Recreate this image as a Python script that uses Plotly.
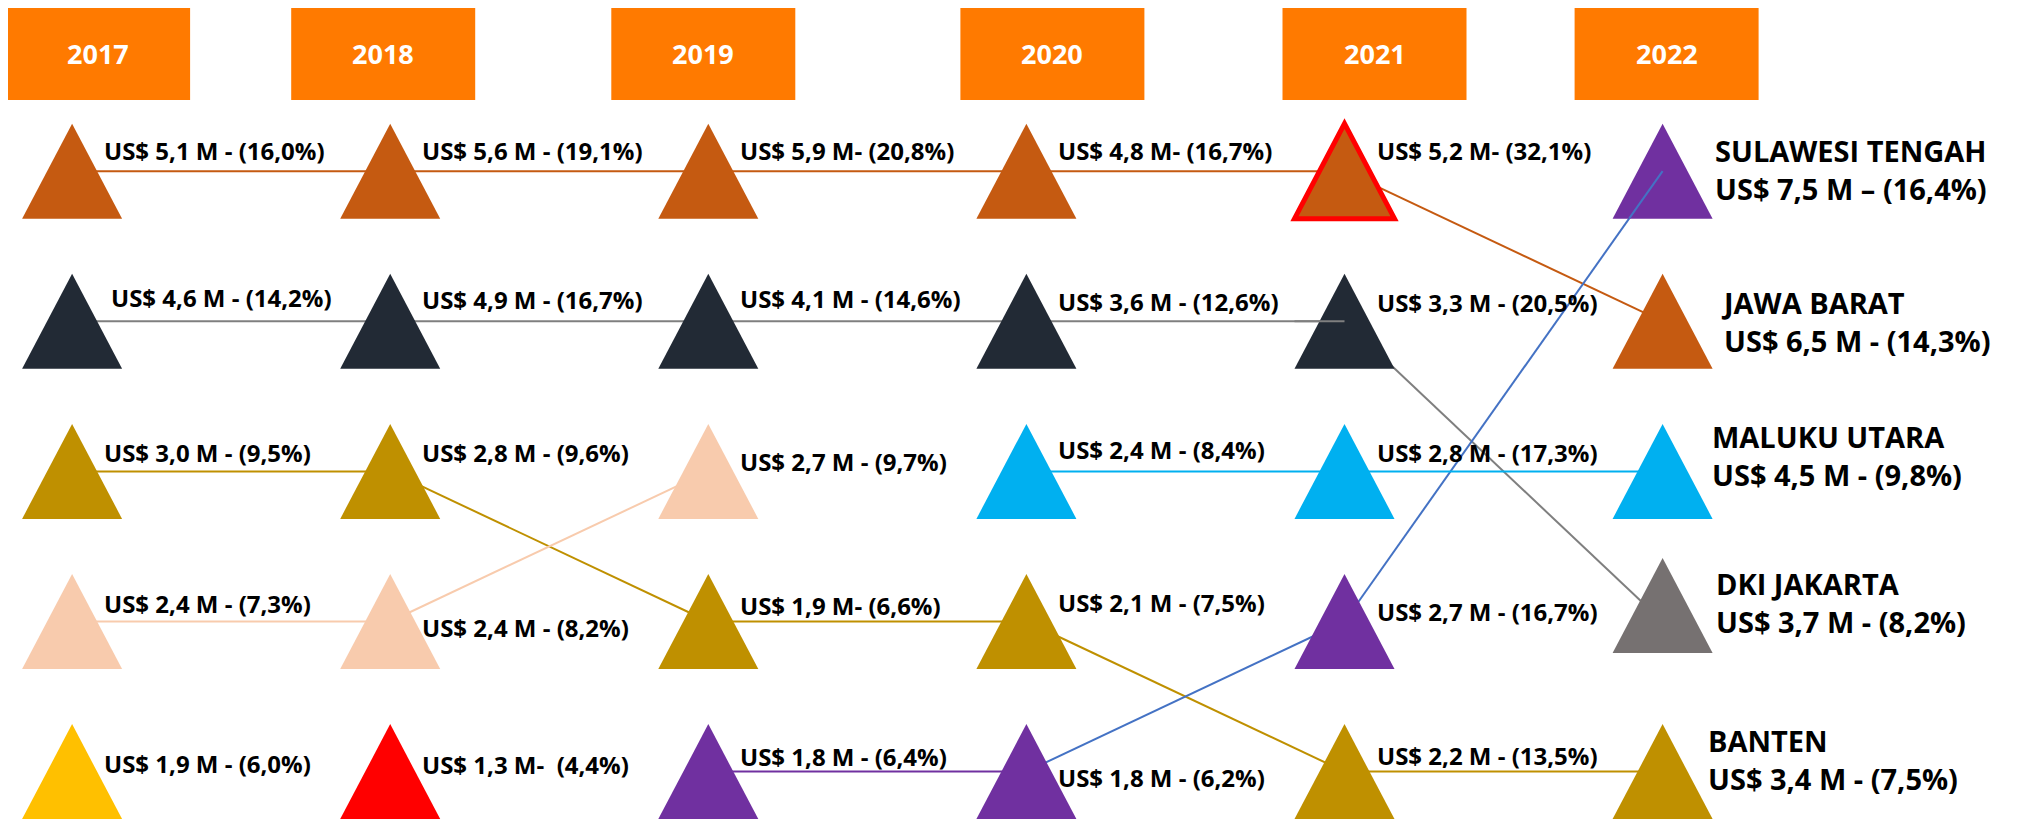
import plotly.graph_objects as go

years = ["2017", "2018", "2019", "2020", "2021", "2022"]

# rank per year (None = not in top 5), value in US$ million, share in %
jabar_rank = [1, 1, 1, 1, 1, 2]
jabar_value = [5.1, 5.6, 5.9, 4.8, 5.2, 6.5]
jabar_share = [16.0, 19.1, 20.8, 16.7, 32.1, 14.3]

dki_rank = [2, 2, 2, 2, 2, 4]
dki_value = [4.6, 4.9, 4.1, 3.6, 3.3, 3.7]
dki_share = [14.2, 16.7, 14.6, 12.6, 20.5, 8.2]

banten_rank = [3, 3, 4, 4, 5, 5]
banten_value = [3.0, 2.8, 1.9, 2.1, 2.2, 3.4]
banten_share = [9.5, 9.6, 6.6, 7.5, 13.5, 7.5]

peach_rank = [4, 4, 3, None, None, None]
peach_value = [2.4, 2.4, 2.7, None, None, None]
peach_share = [7.3, 8.2, 9.7, None, None, None]

yellow_rank = [5, None, None, None, None, None]
yellow_value = [1.9, None, None, None, None, None]
yellow_share = [6.0, None, None, None, None, None]

red_rank = [None, 5, None, None, None, None]
red_value = [None, 1.3, None, None, None, None]
red_share = [None, 4.4, None, None, None, None]

sulteng_rank = [None, None, 5, 5, 4, 1]
sulteng_value = [None, None, 1.8, 1.8, 2.7, 7.5]
sulteng_share = [None, None, 6.4, 6.2, 16.7, 16.4]

malut_rank = [None, None, None, 3, 3, 3]
malut_value = [None, None, None, 2.4, 2.8, 4.5]
malut_share = [None, None, None, 8.4, 17.3, 9.8]

# name shown in 2022 column, ranks, values, shares
series = [
    ("JAWA BARAT", jabar_rank, jabar_value, jabar_share),
    ("DKI JAKARTA", dki_rank, dki_value, dki_share),
    ("BANTEN", banten_rank, banten_value, banten_share),
    ("", peach_rank, peach_value, peach_share),
    ("", yellow_rank, yellow_value, yellow_share),
    ("", red_rank, red_value, red_share),
    ("SULAWESI TENGAH", sulteng_rank, sulteng_value, sulteng_share),
    ("MALUKU UTARA", malut_rank, malut_value, malut_share),
]

# --- styles ---
tri_colors = [
    ["#C55A11"] * 6,
    ["#222A35"] * 5 + ["#767171"],
    ["#BF9000"] * 6,
    ["#F8CBAD"] * 6,
    ["#FFC000"] * 6,
    ["#FF0000"] * 6,
    ["#7030A0"] * 6,
    ["#00B0F0"] * 6,
]
seg_colors = [
    ["#C55A11"] * 5,
    ["#7F7F7F"] * 5,
    ["#BF9000"] * 5,
    ["#F8CBAD"] * 5,
    ["#FFC000"] * 5,
    ["#FF0000"] * 5,
    ["#7030A0", "#7030A0", "#7030A0", "#4472C4", "#4472C4"],
    ["#00B0F0"] * 5,
]
seps = [
    [" - ", " - ", "- ", "- ", "- ", " - "],
    [" - "] * 6,
    [" - ", " - ", "- ", " - ", " - ", " - "],
    [" - "] * 6,
    [" - "] * 6,
    [" - ", "-  ", " - ", " - ", " - ", " - "],
    [" - ", " - ", " - ", " - ", " - ", " \u2013 "],
    [" - "] * 6,
]
# vertical nudge of value labels (px, up positive)
label_dy = [
    [21, 21, 21, 21, 21, 0],
    [24, 22, 23, 20, 19, 0],
    [19, 19, 16, 19, 16, 0],
    [18, -6, 10, 0, 0, 0],
    [8, 0, 0, 0, 0, 0],
    [0, 7, 0, 0, 0, 0],
    [0, 0, 15, -6, 10, 0],
    [0, 0, 0, 22, 19, 0],
]
label_dx = {(1, 0): 7}
# 2022 column labels: (x nudge, y nudge)
right_pos = {"SULAWESI TENGAH": (50, 2), "JAWA BARAT": (56, 0),
             "MALUKU UTARA": (47, 16), "DKI JAKARTA": (51, 19),
             "BANTEN": (43, 12)}
tri_dy = {(1, 5): 16}   # DKI 2022 triangle sits a bit higher
box_dx = [26, -7, -5, 26, 30, 4]

W, H = 2018, 813
COL0, COLW = 64.1, 318.1   # px of first column, px between columns
ROW0, ROWH = 163.2, 150.1  # px of first row, px between rows
TW, TH = 50, 47.5          # triangle half width / half height px
FONT = "Open Sans"


def fmt(v):
    return f"{v:.1f}".replace(".", ",")


fig = go.Figure()

# connecting lines (behind the triangles)
for k, (name, rank, val, share) in enumerate(series):
    for i in range(len(years) - 1):
        if rank[i] is None or rank[i + 1] is None:
            continue
        fig.add_trace(go.Scatter(
            x=[i, i + 1], y=[rank[i], rank[i + 1]],
            mode="lines", line=dict(color=seg_colors[k][i], width=2),
            hoverinfo="skip", showlegend=False,
        ))

shapes = []
annotations = []

# year header boxes
for i, yr in enumerate(years):
    shapes.append(dict(
        type="rect", xref="x", xsizemode="pixel", xanchor=i,
        x0=box_dx[i] - 92, x1=box_dx[i] + 92, yref="paper", y0=1 - 92 / H, y1=1,
        fillcolor="#FF7A00", line=dict(width=0), layer="above",
    ))
    annotations.append(dict(
        x=i, y=1 - 45 / H, xref="x", yref="paper", xshift=box_dx[i],
        text=yr, showarrow=False, xanchor="center", yanchor="middle",
        font=dict(family=FONT, size=27, color="white", weight="bold"),
    ))

# triangles and value labels
for k, (name, rank, val, share) in enumerate(series):
    for i in range(len(years)):
        if rank[i] is None:
            continue
        d = tri_dy.get((k, i), 0)
        path = f"M{-TW},{-TH + d} L{TW},{-TH + d} L0,{TH + d} Z"
        outline = (k == 0 and i == 4)
        shapes.append(dict(
            type="path", xref="x", yref="y",
            xsizemode="pixel", ysizemode="pixel",
            xanchor=i, yanchor=rank[i], path=path,
            fillcolor=tri_colors[k][i],
            line=dict(color="#FF0000", width=5) if outline else dict(width=0),
            layer="above",
        ))
        txt = f"US$ {fmt(val[i])} M{seps[k][i]}({fmt(share[i])}%)"
        if i < len(years) - 1:
            annotations.append(dict(
                x=i, y=rank[i], xref="x", yref="y",
                xshift=30 + label_dx.get((k, i), 0),
                yshift=label_dy[k][i], text=txt, showarrow=False,
                xanchor="left", yanchor="middle",
                font=dict(family=FONT, size=24, color="black", weight="bold"),
            ))
        else:
            dx, dy = right_pos[name]
            annotations.append(dict(
                x=i, y=rank[i], xref="x", yref="y", xshift=dx, yshift=dy,
                text=f"{name}<br>{txt}", showarrow=False,
                xanchor="left", yanchor="middle", align="left",
                font=dict(family=FONT, size=29, color="black", weight="bold"),
            ))

# line pieces that run over the triangles in the original
shapes.append(dict(
    type="line", xref="x", yref="y", xsizemode="pixel", xanchor=4,
    x0=-TW, x1=0, y0=dki_rank[4], y1=dki_rank[4],
    line=dict(color=seg_colors[1][3], width=2), layer="above",
))
t = 1 - TH / (ROWH * abs(sulteng_rank[5] - sulteng_rank[4]))
shapes.append(dict(
    type="line", xref="x", yref="y",
    x0=4 + t, y0=sulteng_rank[4] + t * (sulteng_rank[5] - sulteng_rank[4]),
    x1=5, y1=sulteng_rank[5],
    line=dict(color=seg_colors[6][4], width=2), layer="above",
))

fig.update_layout(
    width=W, height=H,
    margin=dict(l=0, r=0, t=0, b=0),
    paper_bgcolor="white", plot_bgcolor="white",
    showlegend=False,
    xaxis=dict(range=[-COL0 / COLW, (W - COL0) / COLW], visible=False, fixedrange=True),
    yaxis=dict(range=[1 + (H - ROW0) / ROWH, 1 - ROW0 / ROWH], visible=False, fixedrange=True),
    shapes=shapes,
    annotations=annotations,
)

fig.write_html("out.html")
